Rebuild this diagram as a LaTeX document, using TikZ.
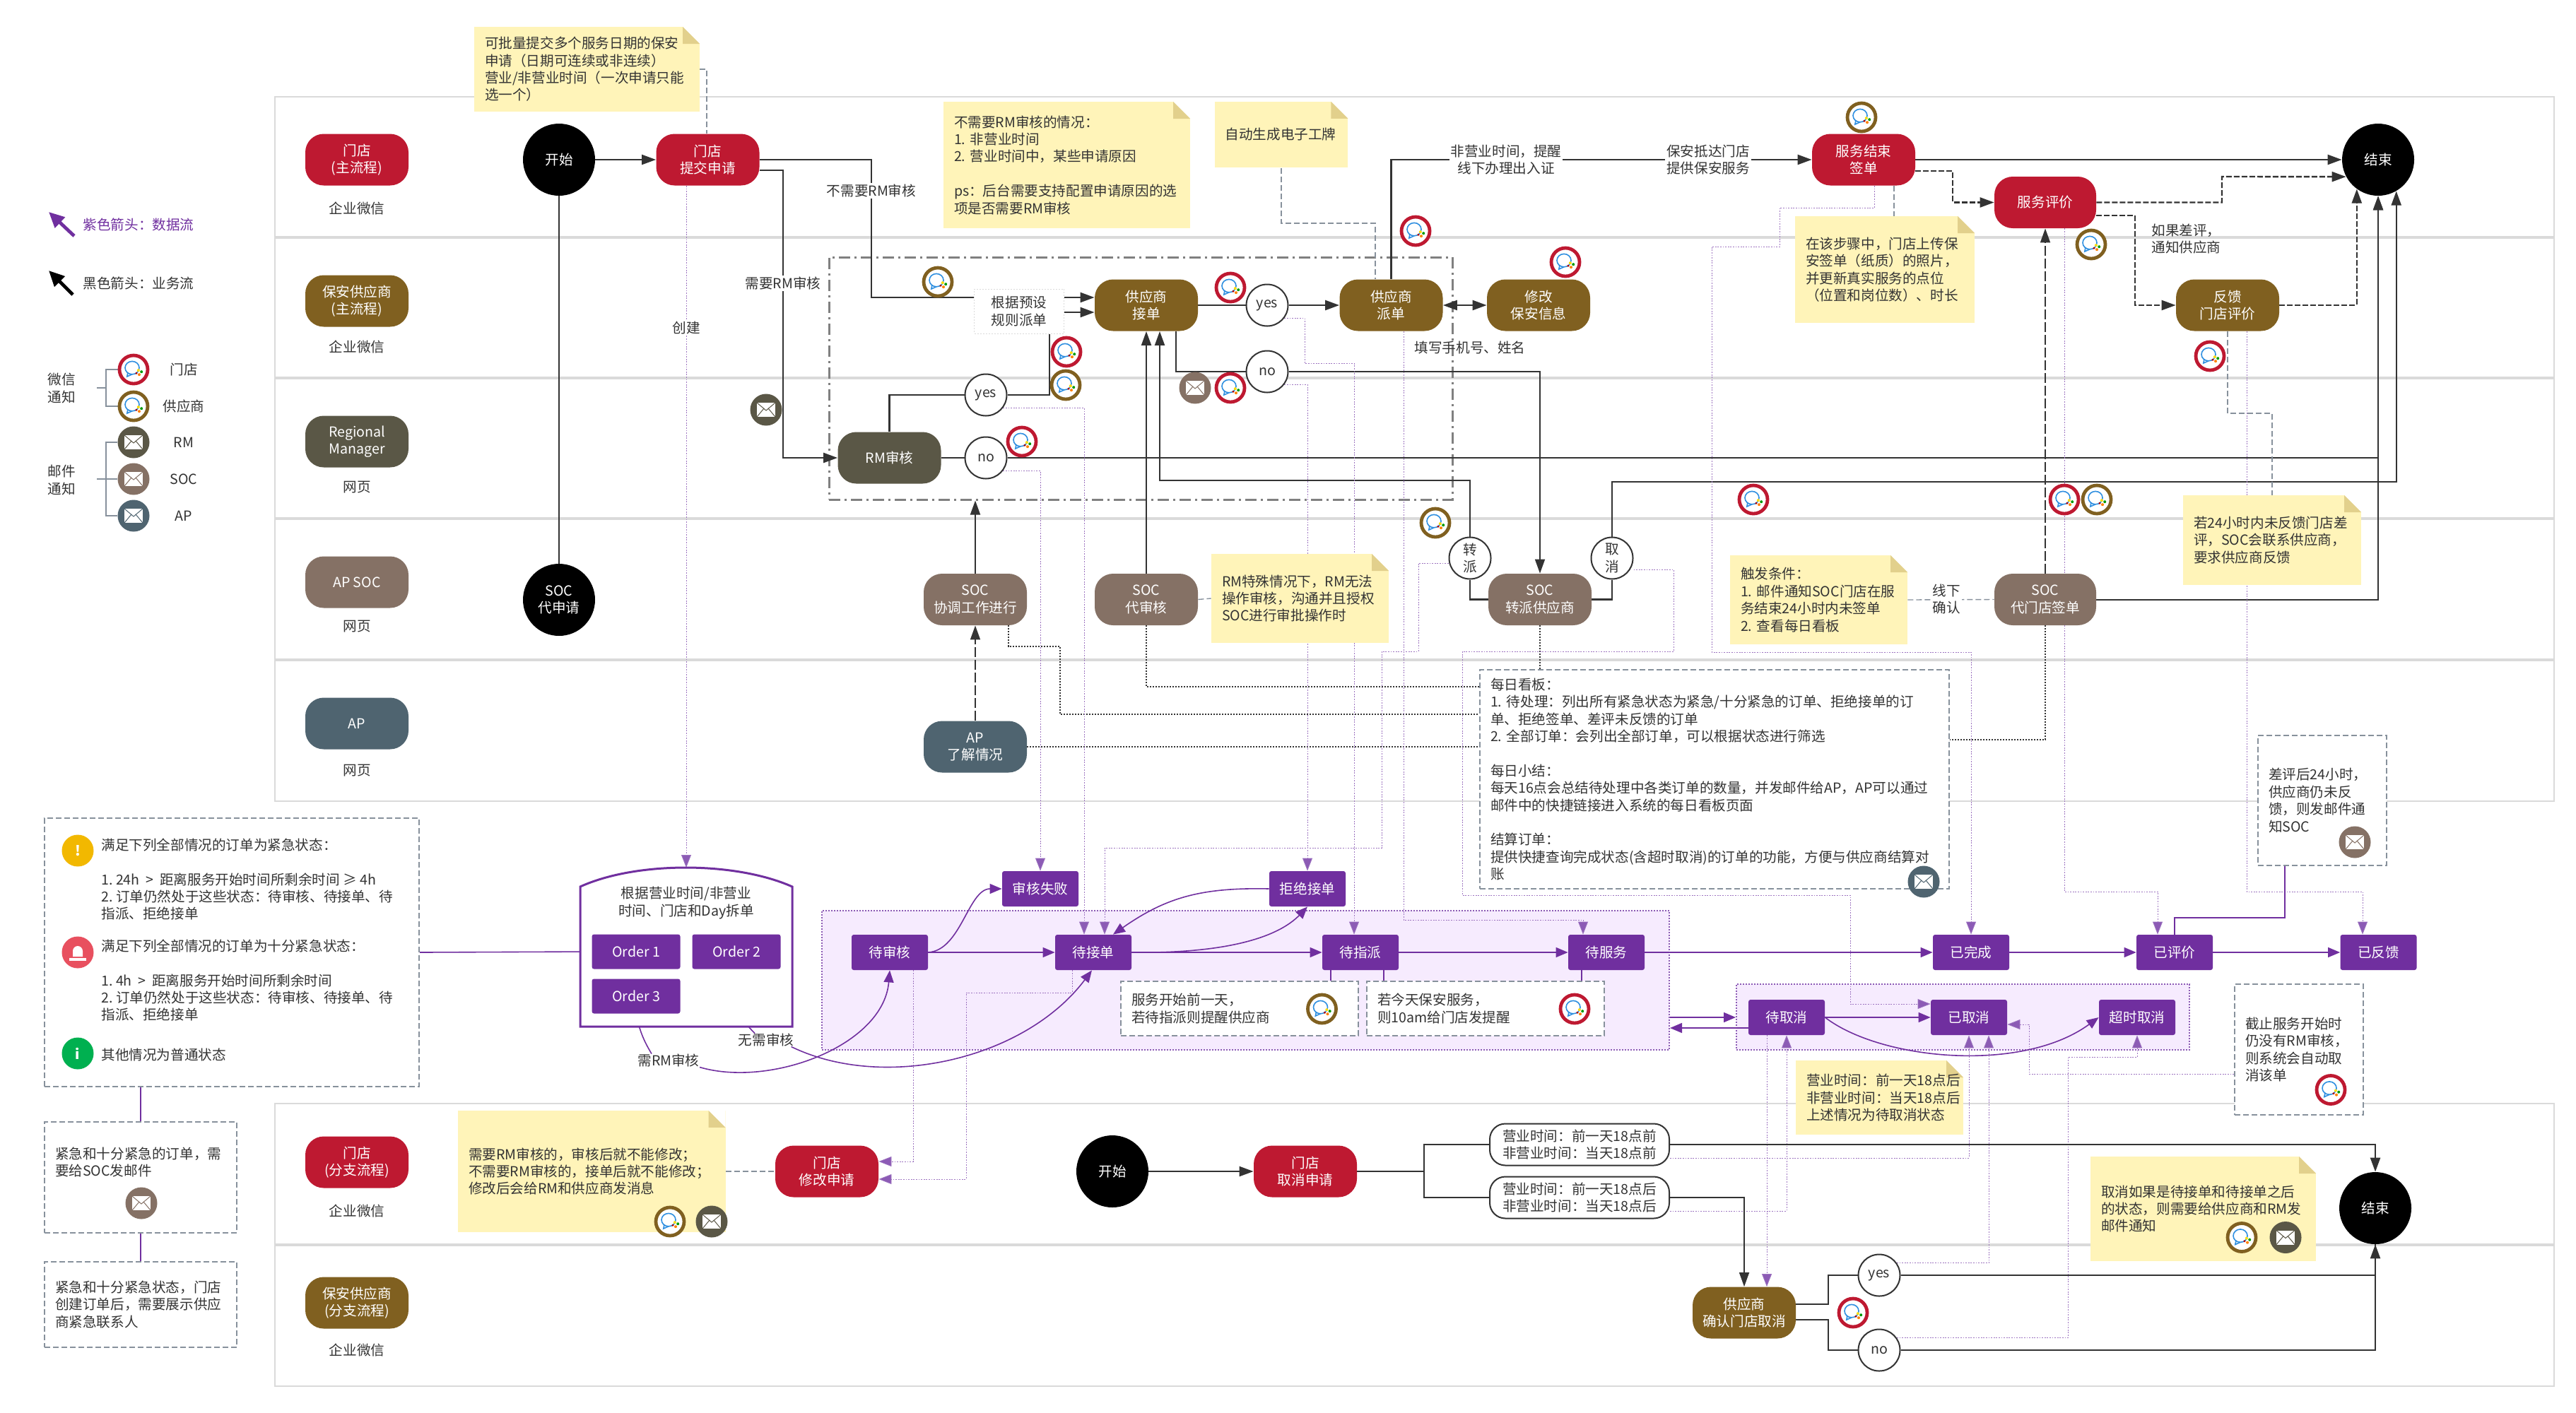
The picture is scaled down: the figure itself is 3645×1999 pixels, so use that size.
\documentclass[tikz,border=0pt]{standalone}
\usepackage{fontspec}
\setmainfont{Noto Sans CJK SC}
\usetikzlibrary{positioning, arrows.meta}

\definecolor{storered}{HTML}{BE1931}
\definecolor{vendorbrown}{HTML}{806020}
\definecolor{rmgrey}{HTML}{5A5746}
\definecolor{soctaupe}{HTML}{857165}
\definecolor{apslate}{HTML}{4F6470}
\definecolor{statepurple}{HTML}{702F9F}
\definecolor{zonefill}{HTML}{F6EBFE}
\definecolor{linklilac}{HTML}{8C5BB5}
\definecolor{notefill}{HTML}{FFF4B9}
\definecolor{notefold}{HTML}{E2D08C}
\definecolor{ink}{HTML}{333333}
\definecolor{lanegrey}{HTML}{DADADA}
\definecolor{boxgrey}{HTML}{87919C}
\definecolor{wxblue}{HTML}{2F8FE0}
\definecolor{warnyellow}{HTML}{F2B800}
\definecolor{alarmred}{HTML}{E8505F}
\definecolor{infogreen}{HTML}{00B050}

\pgfdeclarelayer{lanes}
\pgfdeclarelayer{links}
\pgfsetlayers{lanes,links,main}

\begin{document}
\begin{tikzpicture}[
  x=0.5pt, y=-0.5pt,
  every node/.style={font=\fontsize{9.8}{12.2}\selectfont\frenchspacing, text=ink},
  task/.style={rectangle, rounded corners=13pt, fill=#1, text=white, minimum width=73pt, minimum height=36.5pt, inner sep=0pt, align=center},
  status/.style={rectangle, rounded corners=1.5pt, fill=statepurple, text=white, minimum width=54pt, minimum height=25pt, inner sep=0pt, align=center},
  orderbox/.style={status, minimum width=62.5pt, minimum height=24.5pt},
  decision/.style={circle, draw=ink, line width=1pt, fill=white, minimum size=29.5pt, inner sep=0pt, align=center},
  terminal/.style={circle, fill=black, text=white, minimum size=51pt, inner sep=0pt, align=center},
  timebox/.style={rectangle, rounded corners=11pt, draw=ink, line width=1pt, fill=white, minimum width=127pt, minimum height=29.5pt, inner sep=0pt, align=center},
  caption/.style={inner sep=0pt, align=center},
  labelbg/.style={fill=white, inner sep=1pt, align=center},
  lefttext/.style={inner sep=0pt, align=left, anchor=west},
  note/.style 2 args={rectangle, fill=notefill, minimum width=#1*0.5pt, minimum height=#2*0.5pt, inner xsep=7.5pt, inner ysep=0pt, text width={(#1-30)*0.5pt}, align=left,
    path picture={
      \fill[white] (path picture bounding box.north east) -- ++(-12pt,0pt) -- ++(12pt,-12pt) -- cycle;
      \fill[notefold] (path picture bounding box.north east) ++(-12pt,0pt) -- ++(0pt,-12pt) -- ++(12pt,0pt) -- cycle;
    }},
  hint/.style 2 args={rectangle, draw=boxgrey, fill=white, line width=1pt, dash pattern=on 4pt off 2pt, minimum width=#1*0.5pt, minimum height=#2*0.5pt, inner xsep=7.5pt, inner ysep=0pt, text width={(#1-30)*0.5pt}, align=left},
  zonebg/.style 2 args={rectangle, fill=zonefill, draw=linklilac, line width=1pt, dash pattern=on 1pt off 1pt, minimum width=#1*0.5pt, minimum height=#2*0.5pt},
  wx/.style={circle, draw=#1, line width=2.4pt, fill=white, minimum size=20pt, inner sep=0pt,
    path picture={
      \begin{scope}[shift={(path picture bounding box.center)}]
        \draw[wxblue, line width=0.8pt] (-1pt,1.2pt) ellipse (5pt and 4.6pt);
        \draw[wxblue, line width=0.8pt] (-4pt,-2pt) -- (-4.6pt,-5pt) -- (-1pt,-3.4pt);
        \fill[orange] (4pt,-3.6pt) circle (1pt);
        \fill[green!60!black] (5.6pt,-1.6pt) circle (1pt);
        \fill[yellow!80!orange] (3.4pt,-0.6pt) circle (1pt);
        \fill[red!70!black] (2pt,-2.6pt) circle (0.8pt);
      \end{scope}
    }},
  mail/.style={circle, fill=#1, minimum size=22.5pt, inner sep=0pt,
    path picture={
      \begin{scope}[shift={(path picture bounding box.center)}]
        \fill[white] (-6.5pt,-5pt) rectangle (6.5pt,5pt);
        \draw[#1, line width=0.5pt] (-6.5pt,5pt) -- (0pt,-0.5pt) -- (6.5pt,5pt);
        \draw[#1, line width=0.5pt] (-6.5pt,-5pt) -- (-1.5pt,1pt) (6.5pt,-5pt) -- (1.5pt,1pt);
      \end{scope}
    }},
  warnicon/.style={circle, fill=#1, text=white, minimum size=22.5pt, inner sep=0pt},
  plainflow/.style={draw=ink, line width=1.2pt},
  flow/.style={plainflow, -{Triangle[length=10pt,width=7pt]}},
  flowthin/.style={draw=ink, line width=0.8pt, -{Triangle[length=10pt,width=7pt]}},
  dashflow/.style={flow, dash pattern=on 4pt off 1.5pt},
  longdash/.style={flowthin, dash pattern=on 7pt off 2pt},
  blackdot/.style={draw=ink, line width=1pt, dash pattern=on 1pt off 1pt},
  notelink/.style={draw=boxgrey, line width=0.7pt, dash pattern=on 4pt off 2pt},
  dataline/.style={draw=statepurple, line width=0.8pt},
  data/.style={dataline, -{Triangle[length=8.5pt,width=7pt]}},
  datalink/.style={draw=linklilac!85, line width=0.4pt, dash pattern=on 0.9pt off 0.9pt, -{Triangle[length=9pt,width=7pt,fill=linklilac]}},
  tree/.style={draw=boxgrey, line width=0.7pt}
]
\useasboundingbox (0,0) rectangle (3645,1999);

% swimlanes
\begin{pgfonlayer}{lanes}
  \draw[lanegrey, line width=1.4pt] (389,137) rectangle (3614,1134);
  \foreach \y in {336,535,734,934} \draw[lanegrey, line width=1.6pt] (389,\y) -- (3614,\y);
  \draw[lanegrey, line width=1.4pt] (389,1562) rectangle (3614,1962);
  \draw[lanegrey, line width=1.6pt] (389,1762) -- (3614,1762);
  \node[zonebg={1199}{197}] (mainzone) at (1762.5,1387.5) {};
  \node[zonebg={641}{93}] (cancelzone) at (2777.5,1439.5) {};
  \node[rectangle, draw=gray, line width=1.5pt, dash pattern=on 8pt off 3pt on 1.5pt off 3pt, minimum width=441pt, minimum height=171.5pt] (reviewzone) at (1614,535.5) {};
\end{pgfonlayer}

% legend
\coordinate (lgpurplea) at (105,334);
\coordinate (lgpurpleb) at (69,300);
\coordinate (lgblacka) at (103,417);
\coordinate (lgblackb) at (69,383);
\coordinate (wxroot) at (137,549);
\coordinate (wxfork) at (150,549);
\coordinate (mailroot) at (137,678);
\coordinate (mailfork) at (150,678);
\node[caption, text=statepurple] (lgpurple) at (196,318) {紫色箭头：数据流};
\node[caption] (lgblack) at (196,401) {黑色箭头：业务流};
\node[caption] (lgwx) at (87,549.5) {微信\\通知};
\node[caption] (lgmail) at (87,679.5) {邮件\\通知};
\node[wx=storered] (lgstore) at (189,523) {};
\node[wx=vendorbrown] (lgvendor) at (189,575) {};
\node[mail=rmgrey] (lgrm) at (189,626) {};
\node[mail=soctaupe] (lgsoc) at (189,678) {};
\node[mail=apslate] (lgap) at (189,730) {};
\node[caption] (lgstoretext) at (260,523) {门店};
\node[caption] (lgvendortext) at (260,575) {供应商};
\node[caption] (lgrmtext) at (260,626) {RM};
\node[caption] (lgsoctext) at (260,678) {SOC};
\node[caption] (lgaptext) at (260,730) {AP};

% lane heads
\node[task=storered] (headstore) at (505,226) {门店\\(主流程)};
\node[task=vendorbrown] (headvendor) at (505,426) {保安供应商\\(主流程)};
\node[task=rmgrey] (headrm) at (505,625) {Regional\\Manager};
\node[task=soctaupe] (headsoc) at (505,824) {AP SOC};
\node[task=apslate] (headap) at (505,1024) {AP};
\node[task=storered] (headstoreb) at (505,1645) {门店\\(分支流程)};
\node[task=vendorbrown] (headvendorb) at (505,1844) {保安供应商\\(分支流程)};
\node[caption] (capstore) at (505,295) {企业微信};
\node[caption] (capvendor) at (505,491) {企业微信};
\node[caption] (caprm) at (505,690) {网页};
\node[caption] (capsoc) at (505,887) {网页};
\node[caption] (capap) at (505,1091) {网页};
\node[caption] (capstoreb) at (505,1714) {企业微信};
\node[caption] (capvendorb) at (505,1911) {企业微信};

% main flow
\node[terminal] (start) at (791,226) {开始};
\node[terminal] (socapply) at (791,849) {SOC\\代申请};
\node[task=storered] (submit) at (1001.5,226) {门店\\提交申请};
\node[task=rmgrey] (rmreview) at (1258.5,648) {RM审核};
\node[decision] (rmyes) at (1395,559) {yes};
\node[decision] (rmno) at (1395,648) {no};
\node[rectangle, fill=white, draw=lanegrey, line width=0.5pt, dash pattern=on 1pt off 1pt, minimum width=63.5pt, minimum height=31.5pt, inner sep=0pt, align=center] (ruleset) at (1442,440.5) {根据预设\\规则派单};
\node[task=vendorbrown] (accept) at (1622,432) {供应商\\接单};
\node[decision] (dyes) at (1793,432) {yes};
\node[decision] (dno) at (1793,526) {no};
\node[task=vendorbrown] (dispatch) at (1968.5,432) {供应商\\派单};
\node[task=vendorbrown] (modify) at (2177,432) {修改\\保安信息};
\node[task=storered] (signoff) at (2637,226) {服务结束\\签单};
\node[task=storered, minimum width=72pt] (rating) at (2894,286.5) {服务评价};
\node[task=vendorbrown] (feedback) at (3152,432) {反馈\\门店评价};
\node[terminal] (finish) at (3365,226) {结束};
\node[task=soctaupe] (soccoord) at (1380,848.5) {SOC\\协调工作进行};
\node[task=soctaupe] (socreview) at (1622,848.5) {SOC\\代审核};
\node[task=soctaupe] (transfer) at (2179,848.5) {SOC\\转派供应商};
\node[decision] (reassign) at (2080,790) {转\\派};
\node[decision] (withdraw) at (2281,790) {取\\消};
\node[task=soctaupe, minimum width=72pt] (socsign) at (2894,848.5) {SOC\\代门店签单};
\node[task=apslate] (apinfo) at (1380,1057) {AP\\了解情况};

% notes
\node[note={319}{120}] (batchnote) at (830.5,98) {可批量提交多个服务日期的保安\\申请（日期可连续或非连续）\\营业/非营业时间（一次申请只能\\选一个）};
\node[note={349}{179}] (rmnote) at (1509.5,233.5) {不需要RM审核的情况：\\1. 非营业时间\\2. 营业时间中，某些申请原因\\[12.2pt]ps：后台需要支持配置申请原因的选\\项是否需要RM审核};
\node[note={188.5}{93.5}] (badgenote) at (1813,190.5) {自动生成电子工牌};
\node[note={254}{151}] (signnote) at (2667,381.5) {在该步骤中，门店上传保\\安签单（纸质）的照片，\\并更新真实服务的点位\\（位置和岗位数）、时长};
\node[note={251}{126}] (specialnote) at (1839.5,847) {RM特殊情况下，RM无法\\操作审核，沟通并且授权\\SOC进行审批操作时};
\node[note={251}{126}] (triggernote) at (2573.5,849) {触发条件：\\\mbox{1. 邮件通知SOC门店在服}\\务结束24小时内未签单\\2. 查看每日看板};
\node[note={252}{127}] (latenote) at (3215,764.5) {若24小时内未反馈门店差\\评，SOC会联系供应商，\\要求供应商反馈};
\node[note={378.5}{172.5}] (editnote) at (837.25,1658) {需要RM审核的，审核后就不能修改；\\不需要RM审核的，接单后就不能修改；\\修改后会给RM和供应商发消息};
\node[note={237}{105}] (pendnote) at (2659.5,1553.5) {营业时间：前一天18点后\\非营业时间：当天18点后\\上述情况为待取消状态};
\node[note={319}{148}] (mailnote) at (3117.5,1711) {取消如果是待接单和待接单之后\\的状态，则需要给供应商和RM发\\邮件通知};

% dashboard and hint boxes
\node[hint={664}{310}] (board) at (2426,1103) {每日看板：\\1. 待处理：列出所有紧急状态为紧急/十分紧急的订单、拒绝接单的订\\单、拒绝签单、差评未反馈的订单\\2. 全部订单：会列出全部订单，可以根据状态进行筛选\\[12.2pt]每日小结：\\每天16点会总结待处理中各类订单的数量，并发邮件给AP，AP可以通过\\邮件中的快捷链接进入系统的每日看板页面\\[12.2pt]结算订单：\\提供快捷查询完成状态(含超时取消)的订单的功能，方便与供应商结算对\\账};
\node[hint={182}{184}] (badreview) at (3286,1133) {差评后24小时，\\供应商仍未反\\馈，则发邮件通\\知SOC};
\node[hint={182}{185}] (overdue) at (3253,1485.5) {截止服务开始时\\仍没有RM审核，\\则系统会自动取\\消该单};
\node[hint={530}{380}] (urgent) at (328,1348) {};
\node[hint={272}{157}] (urgentmail) at (199,1666.5) {紧急和十分紧急的订单，需\\要给SOC发邮件\\[10pt]~};
\node[hint={272}{121}] (urgentshow) at (199,1846.5) {紧急和十分紧急状态，门店\\创建订单后，需要展示供应\\商紧急联系人};
\node[hint={336}{77}] (remindvendor) at (1754,1427.5) {服务开始前一天，\\若待指派则提醒供应商};
\node[hint={336}{77}] (remindstore) at (2102,1427.5) {若今天保安服务，\\则10am给门店发提醒};

\node[warnicon=warnyellow] (iconwarn) at (110,1204) {\bfseries !};
\node[warnicon=alarmred, path picture={
    \begin{scope}[shift={(path picture bounding box.center)}]
      \fill[white] (-3.5pt,-3pt) -- (-3.5pt,1pt) arc (180:0:3.5pt) -- (3.5pt,-3pt) -- cycle;
      \fill[white] (-6pt,-6pt) rectangle (6pt,-4pt);
    \end{scope}}] (iconalarm) at (110,1348) {};
\node[warnicon=infogreen] (iconinfo) at (110,1491) {\bfseries i};
\node[lefttext] (urgenttitle) at (143,1195.5) {满足下列全部情况的订单为紧急状态：};
\node[lefttext] (urgentrules) at (143,1269) {1. 24h ~>~ 距离服务开始时间所剩余时间 ≥ 4h\\2. 订单仍然处于这些状态：待审核、待接单、待\\指派、拒绝接单};
\node[lefttext] (veryurgenttitle) at (143,1339) {满足下列全部情况的订单为十分紧急状态：};
\node[lefttext] (veryurgentrules) at (143,1412) {1. 4h ~>~ 距离服务开始时间所剩余时间\\2. 订单仍然处于这些状态：待审核、待接单、待\\指派、拒绝接单};
\node[lefttext] (normaltext) at (143,1493) {其他情况为普通状态};

% state row
\coordinate (splittop) at (971,1228);
\draw[fill=white, draw=statepurple, line width=1.5pt] (821,1453) -- (821,1255) .. controls (900,1219) and (1040,1219) .. (1121,1255) -- (1121,1453) -- cycle;
\node[caption] (splittext) at (971,1278) {根据营业时间/非营业\\时间、门店和Day拆单};
\node[orderbox] (orderone) at (900,1347) {Order 1};
\node[orderbox] (ordertwo) at (1042,1347) {Order 2};
\node[orderbox] (orderthree) at (900,1410) {Order 3};
\node[caption] (needrm) at (946,1501) {需RM审核};
\node[caption] (noneed) at (1084,1472) {无需审核};
\node[status] (pending) at (1259,1348) {待审核};
\node[status] (waiting) at (1547,1348) {待接单};
\node[status] (assign) at (1925,1348) {待指派};
\node[status] (service) at (2273,1348) {待服务};
\node[status] (failed) at (1472,1258) {审核失败};
\node[status] (rejected) at (1850,1258) {拒绝接单};
\node[status] (completed) at (2789,1348) {已完成};
\node[status] (rated) at (3077,1348) {已评价};
\node[status] (fedback) at (3365.5,1348) {已反馈};
\node[status] (pendcancel) at (2528,1440) {待取消};
\node[status] (cancelled) at (2786,1440) {已取消};
\node[status] (timeout) at (3024,1440) {超时取消};

% branch flow
\node[task=storered] (editorder) at (1170,1658) {门店\\修改申请};
\node[terminal] (startb) at (1574,1658) {开始};
\node[task=storered] (cancelorder) at (1847,1658) {门店\\取消申请};
\node[timebox] (beforesix) at (2235,1620) {营业时间：前一天18点前\\非营业时间：当天18点前};
\node[timebox] (aftersix) at (2235,1695) {营业时间：前一天18点后\\非营业时间：当天18点后};
\node[task=vendorbrown] (confirm) at (2468,1858) {供应商\\确认门店取消};
\node[decision] (cyes) at (2659,1805) {yes};
\node[decision] (cno) at (2659,1911) {no};
\node[terminal] (finishb) at (3361,1710) {结束};

% labels on links
\node[caption, fill=white, inner sep=1pt] (createtext) at (971,464) {创建};
\node[labelbg] (noreview) at (1233,270) {不需要RM审核};
\node[labelbg] (withreview) at (1108,401) {需要RM审核};
\node[labelbg] (offhours) at (2131,226) {非营业时间，提醒\\线下办理出入证};
\node[labelbg] (arrived) at (2417,226) {保安抵达门店\\提供保安服务};
\node[caption] (phonetext) at (2080,492) {填写手机号、姓名};
\node[lefttext] (badtext) at (3044,338) {如果差评，\\通知供应商};
\node[labelbg] (offline) at (2754.5,848) {线下\\确认};

% notification icons
\node[mail=rmgrey] (mailrm) at (1084,580) {};
\node[wx=vendorbrown] (wxrule) at (1327,399) {};
\node[wx=storered] (wxacceptyes) at (1741,407) {};
\node[wx=storered] (wxrmyes) at (1509,498) {};
\node[wx=vendorbrown] (wxrmyesb) at (1508,545) {};
\node[mail=soctaupe] (mailrefuse) at (1691,549) {};
\node[wx=storered] (wxrefuse) at (1741,549) {};
\node[wx=storered] (wxrmno) at (1446,625) {};
\node[wx=storered] (wxdispatch) at (2003,327) {};
\node[wx=storered] (wxmodify) at (2215,371) {};
\node[wx=vendorbrown] (wxsign) at (2634,166) {};
\node[wx=vendorbrown] (wxrating) at (2959,346) {};
\node[wx=storered] (wxfeedback) at (3127,504) {};
\node[wx=vendorbrown] (wxtransfer) at (2031,740) {};
\node[wx=storered] (wxtimeout) at (2481,707) {};
\node[wx=storered] (wxsocsign) at (2921,707) {};
\node[wx=vendorbrown] (wxsocsignb) at (2967,707) {};
\node[mail=apslate] (mailboard) at (2722,1248) {};
\node[mail=soctaupe] (mailbad) at (3332,1192) {};
\node[wx=storered] (wxoverdue) at (3298,1542.5) {};
\node[mail=soctaupe] (mailurgent) at (200,1703) {};
\node[wx=vendorbrown] (wxedit) at (948,1729) {};
\node[mail=rmgrey] (mailedit) at (1007,1729) {};
\node[wx=vendorbrown] (wxremind) at (1870.5,1428) {};
\node[wx=storered] (wxremindb) at (2228,1428) {};
\node[wx=storered] (wxconfirm) at (2622,1858) {};
\node[wx=vendorbrown] (wxcancel) at (3172,1751.5) {};
\node[mail=rmgrey] (mailcancel) at (3234,1751.5) {};

\begin{pgfonlayer}{links}
  % legend
  \draw[statepurple, line width=2.4pt, -{Triangle[length=11pt,width=10pt]}] (lgpurplea) -- (lgpurpleb);
  \draw[black, line width=2.4pt, -{Triangle[length=11pt,width=10pt]}] (lgblacka) -- (lgblackb);
  \draw[tree] (wxroot) -- (wxfork);
  \draw[tree] (lgstore.west) -| (wxfork) |- (lgvendor.west);
  \draw[tree] (mailroot) -- (lgsoc.west);
  \draw[tree] (lgrm.west) -| (mailfork) |- (lgap.west);

  % business flow
  \draw[flow] (start.east) -- (submit.west);
  \draw[draw=ink, line width=0.8pt] (start.south) -- (socapply.north);
  \draw[plainflow] (submit.east) -| (1233,421) -- (ruleset.west |- 0,421);
  \draw[flow] (ruleset.east |- 0,421) -- (accept.west |- 0,421);
  \draw[flow] (ruleset.east |- 0,442) -- (accept.west |- 0,442);
  \draw[flow] (submit.east |- 0,241) -| (1108,648) -- (rmreview.west);
  \draw[plainflow] (rmreview.north) |- (rmyes.west);
  \draw[plainflow] (rmyes.east) -| (ruleset.south -| 1485,0);
  \draw[plainflow] (rmreview.east) -- (rmno.west);
  \draw[flowthin, line width=1.2pt] (rmno.east) -| (finish.south);
  \draw[plainflow] (accept.east) -- (dyes.west);
  \draw[flow] (dyes.east) -- (dispatch.west);
  \draw[plainflow] (1664,0 |- accept.south) |- (dno.west);
  \draw[flowthin] (dno.east) -| (transfer.north);
  \draw[flowthin, line width=1pt] (socreview.north) -- (accept.south);
  \draw[flowthin, line width=1pt] (reassign.north) |- (1641,680) -- (1641,0 |- accept.south);
  \draw[plainflow] (transfer.west) -| (reassign.south);
  \draw[plainflow] (transfer.east) -| (withdraw.south);
  \draw[flowthin, line width=1pt] (withdraw.north) |- (finish.-60 |- 0,682) -- (finish.-60);
  \draw[flowthin, line width=1pt] (socsign.east) -| (finish.south);
  \draw[flow] (signoff.east) -- (finish.west);
  \draw[flow] (dispatch.north) |- (signoff.west);
  \draw[plainflow, {Triangle[length=10pt,width=7pt]}-{Triangle[length=10pt,width=7pt]}] (dispatch.east) -- (modify.west);
  \draw[dashflow] (signoff.east |- 0,242) -| (2763,0 |- rating.west) -- (rating.west);
  \draw[dashflow] (rating.east) -| (3144,250) -- (finish.-152);
  \draw[dashflow] (rating.east |- 0,305) -| (3021,0 |- feedback.west) -- (feedback.west);
  \draw[dashflow] (feedback.east) -| (finish.-126);
  \draw[longdash] (socsign.north) -- (rating.south);
  \draw[flowthin, line width=1pt] (soccoord.north) -- (soccoord.north |- reviewzone.south);
  \draw[longdash] (apinfo.north) -- (soccoord.south);

  % note links
  \draw[notelink] (batchnote.east) -| (1000,0 |- submit.north);
  \draw[notelink] (badgenote.south) |- (1946,316) -- (1946,0 |- dispatch.north);
  \draw[notelink] (2680,0 |- signoff.south) -- (2680,0 |- signnote.north);
  \draw[notelink] (feedback.south) |- (3215,585) -- (latenote.north);
  \draw[notelink] (socreview.east) -- (specialnote.west);
  \draw[notelink] (triggernote.east) -- (socsign.west);
  \draw[notelink] (editnote.east) -- (editorder.west);

  % dashboard links
  \draw[blackdot] (1427,0 |- soccoord.south) |- (1500,915) |- (board.west |- 0,1011);
  \draw[blackdot] (socreview.south) |- (board.west |- 0,972);
  \draw[blackdot] (apinfo.east) -- (board.west |- apinfo.east);
  \draw[blackdot] (transfer.south) -- (transfer.south |- board.north);
  \draw[blackdot] (socsign.south) |- (board.east |- 0,1047);

  % state links
  \draw[datalink] (971,0 |- submit.south) -- (splittop);
  \draw[datalink] (rmno.-37) -| (failed.north);
  \draw[datalink] (rmyes.-37) -| (1534,0 |- waiting.north);
  \draw[datalink] (dno.-37) -| (rejected.north);
  \draw[datalink] (dyes.-37) -| (1846,514) -| (1916,0 |- assign.north);
  \draw[datalink] (reassign.west |- 0,797) -| (2007,922) -| (1955,1200) -| (1563,0 |- waiting.north);
  \draw[datalink] (1986,0 |- dispatch.south) |- (2240,1302) -- (2240,0 |- service.north);
  \draw[datalink] (withdraw.east |- 0,806) -| (2368,922) -| (2069,1267) -| (2618,1421) -- (cancelled.west |- 0,1421);
  \draw[datalink] (2652,0 |- signoff.south) |- (2518,294) |- (2422,349) |- (completed.north |- 0,923) -- (completed.north);
  \draw[datalink] (2921,0 |- rating.south) |- (3053,1262) -- (3053,0 |- rated.north);
  \draw[datalink] (3179,0 |- feedback.south) |- (3343,1262) -- (3343,0 |- fedback.north);
  \draw[datalink] (1292,0 |- pending.south) |- (editorder.east |- 0,1644);
  \draw[datalink] (1517,0 |- waiting.south) |- (1367,1405) |- (editorder.east |- 0,1669);
  \draw[datalink] (2500,0 |- pendcancel.south) -- (2500,0 |- confirm.north);
  \draw[datalink] (beforesix.east |- 0,1639) -| (cancelled.south);
  \draw[datalink] (aftersix.east |- 0,1714) -| (pendcancel.south);
  \draw[datalink] (cyes.35) -| (2814,0 |- cancelled.south);
  \draw[datalink] (cno.35) -| (2926,1496) -| (timeout.south);
  \draw[datalink] (overdue.west |- 0,1520) -| (2871,1450) -- (cancelled.east |- 0,1450);

  % purple flow
  \draw[dataline] (urgent.east) -- (orderone.west);
  \draw[dataline] (urgent.south -| urgentmail.north) -- (urgentmail.north);
  \draw[dataline] (urgentmail.south) -- (urgentshow.north);
  \draw[dataline] (orderthree.south) .. controls (905,1460) and (912,1475) .. ([xshift=10pt]needrm.north west);
  \draw[dataline] (ordertwo.south) .. controls (1028,1410) and (1045,1440) .. ([xshift=-8pt]noneed.north);
  \draw[data] (needrm.south east) .. controls (1090,1540) and (1250,1480) .. (pending.south);
  \draw[data] ([xshift=-2pt]noneed.south east) .. controls (1250,1545) and (1450,1500) .. ([xshift=-1pt]waiting.south);
  \draw[data] (pending.east) -- (waiting.west);
  \draw[data] (waiting.east) -- (assign.west);
  \draw[data] (assign.east) -- (service.west);
  \draw[data] (service.east) -- (completed.west);
  \draw[data] (completed.east) -- (rated.west);
  \draw[data] (rated.east) -- (fedback.west);
  \draw[data] (pending.east) .. controls (1360,1345) and (1370,1258) .. (failed.west);
  \draw[data] (waiting.east) .. controls (1740,1350) and (1810,1325) .. (rejected.south);
  \draw[data] (rejected.west) .. controls (1700,1256) and (1650,1270) .. ([xshift=14pt]waiting.north);
  \draw[data] (mainzone.east |- 0,1440) -- (cancelzone.west |- 0,1440);
  \draw[data] (pendcancel.west |- 0,1455) -- (mainzone.east |- 0,1455);
  \draw[data] (pendcancel.east) -- (cancelled.west);
  \draw[data] (pendcancel.east) .. controls (2660,1500) and (2860,1520) .. (timeout.west);
  \draw[dataline] (1883,0 |- assign.south) -- (1883,0 |- remindvendor.north);
  \draw[dataline] (1958,0 |- assign.south) -- (1958,0 |- remindstore.north);
  \draw[dataline] (2238,0 |- service.south) -- (2238,0 |- remindstore.north);
  \draw[dataline] (3233,0 |- badreview.south) |- (rated.north |- 0,1299) -- (rated.north);

  % branch flow
  \draw[flow] (startb.east) -- (cancelorder.west);
  \draw[plainflow] (cancelorder.east) -- (2015,1658);
  \draw[plainflow] (beforesix.west) -| (2015,1658) |- (aftersix.west);
  \draw[flowthin, line width=1.2pt] (beforesix.east) -| (finishb.north);
  \draw[flowthin] (aftersix.east) -| (confirm.north);
  \draw[plainflow] (confirm.east |- 0,1846) -| (2587,1805) -- (cyes.west);
  \draw[plainflow] (confirm.east |- 0,1868) -| (2587,1911) -- (cno.west);
  \draw[plainflow] (cno.east) -| (finishb.south);
  \draw[flowthin, line width=1.2pt] (cyes.east) -| (finishb.south);
\end{pgfonlayer}

\end{tikzpicture}
\end{document}
